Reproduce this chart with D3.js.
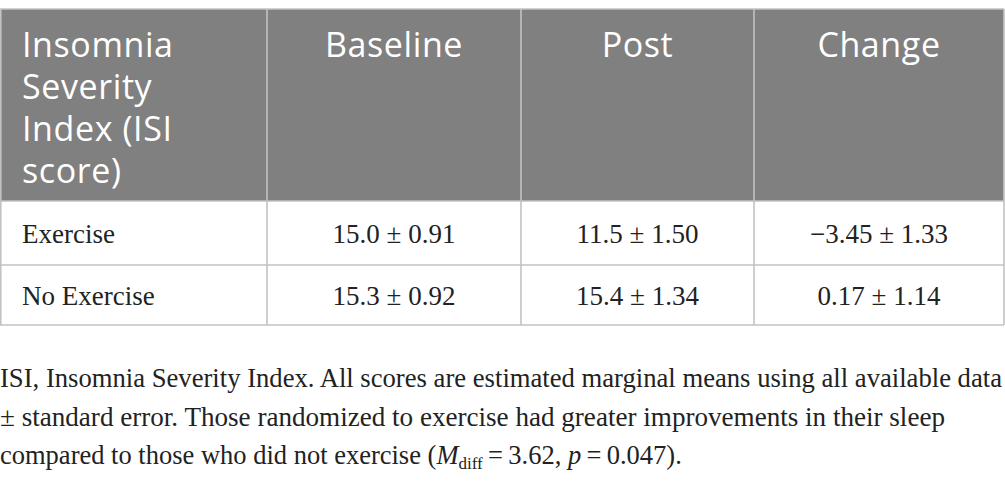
<!DOCTYPE html>
<html>
<head>
<meta charset="utf-8">
<script src="https://cdn.jsdelivr.net/npm/d3@7/dist/d3.min.js"></script>
<style>
  body { margin: 0; background: #fff; }
  svg { display: block; }
</style>
</head>
<body>
<div id="table"></div>
<script>
// table contents
const headerLines = [["Insomnia", "Severity", "Index (ISI", "score)"], ["Baseline"], ["Post"], ["Change"]];
const groups = ["Exercise", "No Exercise"];
const baseline = ["15.0 ± 0.91", "15.3 ± 0.92"];
const post = ["11.5 ± 1.50", "15.4 ± 1.34"];
const change = ["\u22123.45 ± 1.33", "0.17 ± 1.14"];
const footnoteLines = [
    "ISI, Insomnia Severity Index. All scores are estimated marginal means using all available data",
    "± standard error. Those randomized to exercise had greater improvements in their sleep",
    "compared to those who did not exercise ("
];

let width = 1005, height = 482;

let svg = d3.select("#table").append("svg")
    .attr("width", width)
    .attr("height", height);

// column edges and row edges (layout)
let colEdges = [0, 267, 521, 754, 1004];
let rowEdges = [9, 201, 265, 325];

let colX = d3.scaleOrdinal().domain([0, 1, 2, 3]).range(colEdges.slice(0, 4));
let colW = i => colEdges[i + 1] - colEdges[i];
let rowY = d3.scaleOrdinal().domain(["head"].concat(groups)).range(rowEdges.slice(0, 3));
let rowH = i => rowEdges[i + 1] - rowEdges[i];

let grey = "#808080", lineCol = "#c2c2c2";

// header background
svg.append("rect")
    .attr("x", 0).attr("y", rowEdges[0])
    .attr("width", colEdges[4]).attr("height", rowH(0))
    .attr("fill", grey);

// header text
let heads = svg.selectAll(".head")
    .data(headerLines)
    .enter()
    .append("text")
    .attr("class", "head")
    .attr("x", (d, i) => i === 0 ? 22 : colX(i) + colW(i) / 2)
    .attr("y", 57)
    .attr("text-anchor", (d, i) => i === 0 ? "start" : "middle")
    .style("font-family", "'Open Sans', 'Noto Sans', sans-serif")
    .style("font-size", "34px")
    .style("letter-spacing", "0.6px")
    .style("fill", "white");
heads.selectAll("tspan")
    .data(d => d)
    .enter()
    .append("tspan")
    .attr("x", function () { return d3.select(this.parentNode).attr("x"); })
    .attr("dy", (d, i) => i === 0 ? 0 : 42)
    .text(d => d);

// body cells
let body = groups.map((g, i) => [g, baseline[i], post[i], change[i]]);
body.forEach((row, r) => {
    let y0 = rowY(groups[r]);
    let h = rowH(r + 1);
    svg.selectAll(".cell" + r)
        .data(row)
        .enter()
        .append("text")
        .attr("class", "cell" + r)
        .attr("x", (d, i) => i === 0 ? 22 : colX(i) + colW(i) / 2)
        .attr("y", y0 + h / 2 + 10)
        .attr("text-anchor", (d, i) => i === 0 ? "start" : "middle")
        .style("font-family", "'Liberation Serif', 'Times New Roman', serif")
        .style("font-size", "27px")
        .style("fill", "#222")
        .text(d => d);
});

// grid lines
svg.append("g").selectAll("line.h")
    .data(rowEdges)
    .enter()
    .append("line")
    .attr("x1", 0).attr("x2", colEdges[4])
    .attr("y1", d => d).attr("y2", d => d)
    .attr("stroke", lineCol).attr("stroke-width", 1.6);
svg.append("g").selectAll("line.v")
    .data(colEdges)
    .enter()
    .append("line")
    .attr("x1", d => Math.max(d, 0.8)).attr("x2", d => Math.max(d, 0.8))
    .attr("y1", rowEdges[0]).attr("y2", rowEdges[3])
    .attr("stroke", lineCol).attr("stroke-width", 1.6);

// footnote
let fnY = [387, 426, 464];
let fnW = [1002, 945, null];
let fnFont = "'Liberation Serif', 'Times New Roman', serif";
footnoteLines.forEach((t, i) => {
    let tx = svg.append("text")
        .attr("x", 0).attr("y", fnY[i])
        .style("font-family", fnFont)
        .style("font-size", "26.5px")
        .style("fill", "#222");
    if (fnW[i]) {
        tx.attr("textLength", fnW[i]).attr("lengthAdjust", "spacingAndGlyphs").text(t);
    } else {
        tx.append("tspan").text(t);
        tx.append("tspan").style("font-style", "italic").text("M");
        tx.append("tspan").attr("dy", 5).style("font-size", "17px").text("diff");
        tx.append("tspan").attr("dy", -5).text("\u2009=\u20093.62, ");
        tx.append("tspan").style("font-style", "italic").text("p");
        tx.append("tspan").text("\u2009=\u20090.047).");
    }
});
</script>
</body>
</html>
